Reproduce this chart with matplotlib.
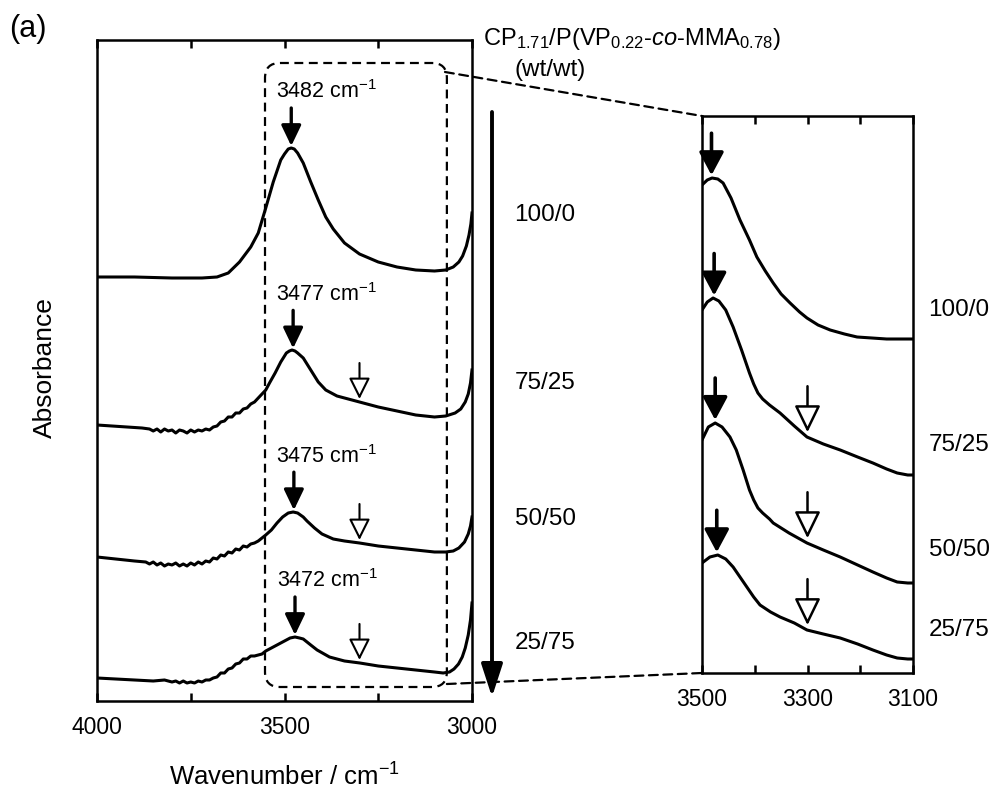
import numpy as np
import matplotlib
matplotlib.use('Agg')
import matplotlib.pyplot as plt
from matplotlib.patches import FancyBboxPatch, ConnectionPatch
from matplotlib.text import Annotation

plt.rcParams['font.family'] = ['Liberation Sans', 'DejaVu Sans']
plt.rcParams['mathtext.fontset'] = 'custom'
plt.rcParams['mathtext.rm'] = 'Liberation Sans'
plt.rcParams['mathtext.it'] = 'Liberation Sans:italic'
plt.rcParams['mathtext.bf'] = 'Liberation Sans:bold'

# ---------------- data ----------------
compositions = ['100/0', '75/25', '50/50', '25/75']
peak_wn = [3482, 3477, 3475, 3472]
shoulder_wn = 3300

# full-range spectra (offset absorbance, a.u.)
wn_100_0 = [4000, 3900, 3800, 3720, 3680, 3650, 3620, 3590, 3570, 3550, 3530, 3510, 3500, 3490, 3482,
            3474, 3465, 3450, 3430, 3410, 3390, 3370, 3340, 3300, 3250, 3200, 3150, 3100, 3070, 3050,
            3035, 3025, 3015, 3008, 3003, 3000]
abs_100_0 = [4.24, 4.24, 4.23, 4.23, 4.24, 4.28, 4.39, 4.54, 4.68, 4.93, 5.19, 5.41, 5.47, 5.52, 5.53,
             5.52, 5.48, 5.38, 5.19, 5.01, 4.84, 4.72, 4.58, 4.47, 4.39, 4.34, 4.31, 4.30, 4.31, 4.34,
             4.39, 4.45, 4.55, 4.66, 4.77, 4.88]

wn_75_25 = [4000, 3960, 3920, 3880, 3860, 3850, 3840, 3830, 3820, 3810, 3800, 3790, 3780, 3770, 3760,
            3750, 3740, 3730, 3720, 3710, 3700, 3690, 3680, 3670, 3660, 3650, 3640, 3630, 3620, 3610,
            3600, 3590, 3580, 3570, 3560, 3550, 3540, 3525, 3510, 3495, 3487, 3480, 3472, 3465, 3450,
            3430, 3410, 3390, 3360, 3330, 3300, 3250, 3200, 3150, 3100, 3070, 3045, 3030, 3018, 3010,
            3004, 3000]
abs_75_25 = [2.76, 2.75, 2.74, 2.73, 2.72, 2.70, 2.72, 2.69, 2.72, 2.70, 2.71, 2.68, 2.71, 2.70, 2.68,
             2.71, 2.69, 2.71, 2.70, 2.72, 2.71, 2.74, 2.75, 2.79, 2.80, 2.84, 2.84, 2.88, 2.88, 2.92,
             2.93, 2.97, 2.99, 3.03, 3.07, 3.11, 3.18, 3.28, 3.39, 3.48, 3.50, 3.51, 3.50, 3.48, 3.43,
             3.31, 3.19, 3.11, 3.05, 3.02, 2.99, 2.94, 2.90, 2.86, 2.84, 2.85, 2.88, 2.92, 2.99, 3.07,
             3.18, 3.31]

wn_50_50 = [4000, 3950, 3900, 3870, 3860, 3850, 3840, 3830, 3820, 3810, 3800, 3790, 3780, 3770, 3760,
            3750, 3740, 3730, 3720, 3710, 3700, 3690, 3680, 3670, 3660, 3650, 3640, 3630, 3620, 3610,
            3600, 3590, 3580, 3570, 3560, 3550, 3535, 3520, 3505, 3490, 3477, 3465, 3450, 3440, 3420,
            3400, 3370, 3340, 3300, 3250, 3200, 3150, 3100, 3070, 3050, 3035, 3020, 3010, 3004, 3000]
abs_50_50 = [1.44, 1.42, 1.40, 1.39, 1.37, 1.39, 1.36, 1.38, 1.35, 1.37, 1.36, 1.38, 1.35, 1.37, 1.35,
             1.38, 1.36, 1.39, 1.37, 1.40, 1.39, 1.43, 1.42, 1.46, 1.45, 1.49, 1.48, 1.52, 1.51, 1.55,
             1.54, 1.57, 1.58, 1.60, 1.63, 1.66, 1.71, 1.78, 1.84, 1.88, 1.89, 1.88, 1.84, 1.80, 1.73,
             1.67, 1.62, 1.60, 1.58, 1.55, 1.53, 1.51, 1.49, 1.49, 1.50, 1.53, 1.59, 1.67, 1.75, 1.84]

wn_25_75 = [4000, 3950, 3900, 3850, 3820, 3800, 3790, 3780, 3770, 3760, 3750, 3740, 3730, 3720, 3710,
            3700, 3690, 3680, 3670, 3660, 3650, 3640, 3630, 3620, 3610, 3600, 3590, 3580, 3570, 3560,
            3550, 3535, 3520, 3500, 3485, 3472, 3460, 3450, 3430, 3413, 3380, 3340, 3299, 3250, 3200,
            3150, 3100, 3077, 3060, 3048, 3036, 3026, 3018, 3010, 3004, 3000]
abs_25_75 = [0.23, 0.22, 0.21, 0.20, 0.21, 0.19, 0.20, 0.18, 0.20, 0.18, 0.19, 0.18, 0.20, 0.19, 0.21,
             0.21, 0.23, 0.24, 0.28, 0.28, 0.32, 0.33, 0.37, 0.38, 0.42, 0.42, 0.45, 0.45, 0.46, 0.47,
             0.50, 0.53, 0.56, 0.60, 0.63, 0.64, 0.63, 0.62, 0.56, 0.51, 0.44, 0.40, 0.38, 0.35, 0.33,
             0.31, 0.29, 0.28, 0.29, 0.32, 0.37, 0.44, 0.53, 0.66, 0.81, 0.98]

# expanded region 3500-3100 cm-1
wn_zoom = [3500, 3490, 3481, 3470, 3460, 3445, 3428, 3410, 3396, 3380, 3365, 3350, 3333, 3315, 3301,
           3280, 3257, 3230, 3206, 3150, 3100]
zoom_100_0 = [4.88, 4.93, 4.95, 4.94, 4.90, 4.75, 4.53, 4.33, 4.16, 4.02, 3.90, 3.79, 3.70, 3.61, 3.55,
              3.48, 3.43, 3.39, 3.36, 3.34, 3.34]
wn_zoom_b = [3500, 3490, 3479, 3468, 3455, 3441, 3425, 3410, 3402, 3394, 3385, 3372, 3352, 3325, 3301,
             3270, 3238, 3205, 3176, 3150, 3130, 3110, 3100]
zoom_75_25 = [3.63, 3.71, 3.75, 3.72, 3.63, 3.46, 3.23, 3.00, 2.89, 2.80, 2.74, 2.68, 2.60, 2.47, 2.36,
              2.29, 2.23, 2.16, 2.10, 2.04, 2.00, 1.98, 1.98]
wn_zoom_c = [3500, 3488, 3475, 3462, 3447, 3435, 3422, 3410, 3402, 3394, 3385, 3372, 3365, 3335, 3301,
             3270, 3238, 3205, 3176, 3150, 3130, 3110, 3100]
zoom_50_50 = [2.33, 2.46, 2.50, 2.46, 2.36, 2.23, 2.03, 1.83, 1.73, 1.65, 1.60, 1.54, 1.50, 1.40, 1.30,
              1.23, 1.16, 1.08, 1.01, 0.95, 0.91, 0.90, 0.90]
wn_zoom_d = [3500, 3485, 3470, 3455, 3441, 3428, 3415, 3402, 3390, 3370, 3352, 3325, 3301, 3270, 3238,
             3205, 3176, 3150, 3130, 3110, 3100]
zoom_25_75 = [1.10, 1.16, 1.18, 1.14, 1.06, 0.96, 0.86, 0.76, 0.68, 0.61, 0.56, 0.50, 0.43, 0.39, 0.35,
              0.29, 0.23, 0.18, 0.15, 0.14, 0.14]

full_wn = [wn_100_0, wn_75_25, wn_50_50, wn_25_75]
full_abs = [abs_100_0, abs_75_25, abs_50_50, abs_25_75]
zoom_wn = [wn_zoom, wn_zoom_b, wn_zoom_c, wn_zoom_d]
zoom_abs = [zoom_100_0, zoom_75_25, zoom_50_50, zoom_25_75]

# --------------- figure ---------------
W, H = 997, 793
fig = plt.figure(figsize=(W / 100, H / 100), dpi=100)


def fx(px):
    return px / W


def fy(py):
    return 1 - py / H


ax1 = fig.add_axes([fx(97), fy(701), 375 / W, 661 / H])
ax2 = fig.add_axes([fx(702), fy(673), 211 / W, 557 / H])

ax1.set_xlim(4000, 3000)
ax1.set_ylim(0, 6.61)
ax1.set_xticks([4000, 3750, 3500, 3250, 3000])
ax1.set_xticklabels(['4000', '', '3500', '', '3000'])
ax2.set_xlim(3500, 3100)
ax2.set_ylim(0, 5.57)
ax2.set_xticks([3500, 3400, 3300, 3200, 3100])
ax2.set_xticklabels(['3500', '', '3300', '', '3100'])
for ax in (ax1, ax2):
    ax.set_yticks([])
    ax.tick_params(axis='x', direction='in', top=True, bottom=True, length=5.5, width=1.8,
                   labelsize=16.5, pad=11)
    for s in ax.spines.values():
        s.set_linewidth(1.8)


def interp(wn, a, x):
    return float(np.interp(x, np.array(wn)[::-1], np.array(a)[::-1]))


def arrow(ax, x, y_tip, length, filled, hl, hw, lw):
    ax.annotate('', xy=(x, y_tip), xytext=(x, y_tip + length),
                arrowprops=dict(arrowstyle=f'-|>,head_length={hl},head_width={hw}',
                                mutation_scale=1, lw=lw, fc='black' if filled else 'white',
                                ec='black', shrinkA=0, shrinkB=0))


for i in range(4):
    ax1.plot(full_wn[i], full_abs[i], color='black', lw=2.2, solid_joinstyle='round')
    ax2.plot(zoom_wn[i], zoom_abs[i], color='black', lw=2.2, solid_joinstyle='round')
    pk = interp(full_wn[i], full_abs[i], peak_wn[i])
    arrow(ax1, peak_wn[i], pk + 0.02, 0.38, True, 12.5, 6, 2.4)
    ax1.text(3387, pk + 0.56, f'{peak_wn[i]} cm$^{{-1}}$', fontsize=15.5, ha='center', va='center')
    pkz = interp(zoom_wn[i], zoom_abs[i], peak_wn[i])
    arrow(ax2, peak_wn[i], pkz + 0.03, 0.42, True, 14, 7.5, 2.6)
    if i > 0:
        sh = interp(full_wn[i], full_abs[i], shoulder_wn)
        arrow(ax1, shoulder_wn, sh + 0.03, 0.36, False, 13, 6.5, 1.5)
        shz = interp(zoom_wn[i], zoom_abs[i], shoulder_wn)
        arrow(ax2, shoulder_wn, shz + 0.05, 0.46, False, 16.5, 8, 1.8)

# dashed zoom box and connectors
dash = (0, (4, 2.5))
box = FancyBboxPatch((3067, 0.14), 3552 - 3067, 6.38 - 0.14,
                     boxstyle='round,pad=0,rounding_size=40', mutation_aspect=0.00375,
                     fill=False, ec='black', lw=1.6, ls=dash, clip_on=False)
ax1.add_patch(box)
for xyA, xyB in [((3072, 6.29), (0, 1)), ((3067, 0.17), (0, 0))]:
    con = ConnectionPatch(xyA=xyA, coordsA=ax1.transData, xyB=xyB, coordsB=ax2.transAxes,
                          ls=dash, lw=1.6, color='black')
    fig.add_artist(con)

# long composition arrow
fig.add_artist(Annotation(
    '', xy=(fx(492), fy(697)), xytext=(fx(492), fy(112)), xycoords='figure fraction',
    textcoords='figure fraction',
    arrowprops=dict(arrowstyle='-|>,head_length=20,head_width=6.5', mutation_scale=1, lw=2.8,
                    fc='black', ec='black', shrinkA=0, shrinkB=0)))

# texts
fig.text(fx(9), fy(29), '(a)', fontsize=22, ha='left', va='center')
fig.text(fx(483), fy(45), r'CP$_\mathregular{1.71}$/P(VP$_\mathregular{0.22}$-$\mathit{co}$-MMA$_\mathregular{0.78}$)',
         fontsize=17, ha='left', va='baseline')
fig.text(fx(550), fy(76), '(wt/wt)', fontsize=17.5, ha='center', va='baseline')
fig.text(fx(284), fy(777), 'Wavenumber / cm$^{-1}$', fontsize=18.5, ha='center', va='center')
fig.text(fx(45), fy(368), 'Absorbance', fontsize=19, ha='center', va='center', rotation=90)

for lab, py in zip(compositions, [215, 383, 519, 643]):
    fig.text(fx(545), fy(py), lab, fontsize=17.5, ha='center', va='center')
for lab, py in zip(compositions, [310, 445, 550, 630]):
    fig.text(fx(959), fy(py), lab, fontsize=17.5, ha='center', va='center')

fig.savefig('out.png', dpi=100)
